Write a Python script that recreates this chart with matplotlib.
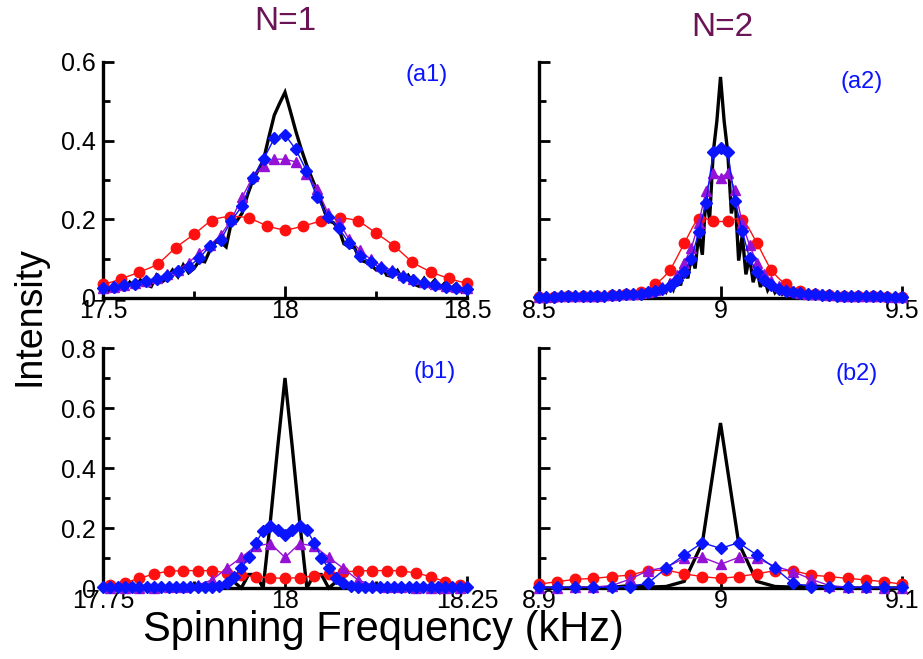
import numpy as np
import matplotlib
matplotlib.use("Agg")
import matplotlib.pyplot as plt
from matplotlib.ticker import FixedLocator

plt.rcParams['font.family'] = ['Liberation Sans', 'DejaVu Sans']

# ---------------- N=1, panel (a1) ----------------
a1_black = [0.026, 0.016, 0.036, 0.024, 0.020, 0.040, 0.025, 0.046, 0.034, 0.029,
            0.058, 0.041, 0.050, 0.071, 0.054, 0.084, 0.064, 0.075, 0.095, 0.092,
            0.122, 0.142, 0.142, 0.130, 0.194, 0.196, 0.216, 0.262, 0.300, 0.325,
            0.352, 0.410, 0.465, 0.495, 0.523,
            0.475, 0.425, 0.380, 0.340, 0.305, 0.272, 0.235, 0.196, 0.192, 0.178,
            0.138, 0.130, 0.128, 0.096, 0.092, 0.085, 0.072, 0.084, 0.058, 0.055,
            0.070, 0.046, 0.058, 0.036, 0.030, 0.050, 0.030, 0.046, 0.026, 0.040,
            0.024, 0.036, 0.016, 0.030]
a1_blue = [0.025, 0.028, 0.032, 0.036, 0.042, 0.048, 0.056, 0.068, 0.080, 0.101,
           0.133, 0.148, 0.197, 0.234, 0.306, 0.353, 0.406, 0.415, 0.378, 0.324,
           0.256, 0.205, 0.179, 0.139, 0.107, 0.092, 0.075, 0.067, 0.053, 0.046,
           0.038, 0.033, 0.029, 0.026, 0.024]
a1_purple = [0.025, 0.029, 0.033, 0.038, 0.044, 0.050, 0.060, 0.072, 0.090, 0.114,
             0.135, 0.160, 0.200, 0.256, 0.309, 0.336, 0.353, 0.353, 0.346, 0.315,
             0.277, 0.217, 0.194, 0.149, 0.122, 0.098, 0.082, 0.070, 0.058, 0.048,
             0.040, 0.035, 0.030, 0.027, 0.025]
a1_red = [0.035, 0.049, 0.066, 0.087, 0.128, 0.162, 0.197, 0.207, 0.203, 0.184,
          0.174, 0.183, 0.196, 0.203, 0.195, 0.165, 0.132, 0.092, 0.067, 0.050, 0.038]

# ---------------- N=2, panel (a2) ----------------
a2_black = [0.003, 0.001, 0.003, 0.001, 0.004, 0.002, 0.004, 0.002, 0.005, 0.002,
            0.005, 0.003, 0.006, 0.003, 0.007, 0.003, 0.008, 0.004, 0.009, 0.004,
            0.010, 0.005,
            0.011, 0.005, 0.013, 0.006, 0.015, 0.007, 0.017, 0.008, 0.020, 0.010,
            0.024, 0.012, 0.030, 0.016, 0.040, 0.022, 0.055, 0.032, 0.078, 0.050,
            0.110, 0.075, 0.165, 0.110, 0.260, 0.200, 0.370, 0.450,
            0.562,
            0.450, 0.370, 0.215, 0.260, 0.095, 0.160, 0.060, 0.105, 0.040, 0.075,
            0.028, 0.052, 0.020, 0.036, 0.014, 0.026, 0.010, 0.020, 0.008, 0.016,
            0.006, 0.013, 0.005, 0.011, 0.004, 0.010, 0.004, 0.009,
            0.003, 0.008, 0.003, 0.007, 0.003, 0.006, 0.002, 0.005, 0.002, 0.005,
            0.002, 0.004, 0.002, 0.004, 0.001, 0.004, 0.001, 0.003, 0.001, 0.003,
            0.001, 0.003]
a2_blue = [0.003, 0.003, 0.003, 0.004, 0.004, 0.004, 0.005, 0.005, 0.006, 0.006,
           0.007, 0.008, 0.009, 0.010, 0.011,
           0.014, 0.018, 0.022, 0.031, 0.045, 0.065, 0.100, 0.168, 0.242, 0.370,
           0.382,
           0.370, 0.247, 0.170, 0.101, 0.066, 0.046, 0.033, 0.022, 0.018, 0.014,
           0.012, 0.010, 0.009, 0.008, 0.007, 0.006, 0.006, 0.005, 0.005, 0.004,
           0.004, 0.004, 0.003, 0.003, 0.003]
a2_purple = [0.003, 0.003, 0.004, 0.004, 0.004, 0.005, 0.005, 0.006, 0.006, 0.007,
             0.008, 0.009, 0.010, 0.011, 0.013,
             0.016, 0.021, 0.027, 0.038, 0.058, 0.090, 0.128, 0.190, 0.273, 0.317,
             0.306,
             0.318, 0.275, 0.190, 0.134, 0.090, 0.062, 0.044, 0.030, 0.022, 0.017,
             0.013, 0.011, 0.010, 0.009, 0.008, 0.007, 0.006, 0.006, 0.005, 0.005,
             0.004, 0.004, 0.004, 0.003, 0.003]
a2_red = [0.003, 0.003, 0.004, 0.004, 0.005, 0.007, 0.010, 0.016, 0.035, 0.071,
          0.139, 0.201, 0.195, 0.195, 0.199, 0.140, 0.072, 0.035, 0.018, 0.010,
          0.007, 0.005, 0.004, 0.004, 0.003, 0.003]

# ---------------- N=1, panel (b1) ----------------
b1_black = [0, 0, 0, 0, 0, 0, 0, 0, 0, 0,
            0, 0, 0, 0, 0, 0, 0, 0.015, 0.020, 0.0,
            0.045, 0.045, 0.0, 0.225, 0.470,
            0.700,
            0.470, 0.225, 0.0, 0.045, 0.045, 0.0, 0.020, 0.015, 0, 0,
            0, 0, 0, 0, 0, 0, 0, 0, 0, 0,
            0, 0, 0, 0, 0]
b1_blue = [0.002, 0.002, 0.002, 0.002, 0.002, 0.002, 0.002, 0.002, 0.002, 0.002,
           0.002, 0.002, 0.002, 0.003, 0.003,
           0.004, 0.008, 0.016, 0.036, 0.066, 0.102, 0.151, 0.191, 0.208, 0.193,
           0.177,
           0.195, 0.208, 0.193, 0.151, 0.100, 0.066, 0.035, 0.016, 0.008, 0.004,
           0.003, 0.003, 0.002, 0.002, 0.002, 0.002, 0.002, 0.002, 0.002, 0.002,
           0.002, 0.002, 0.002, 0.002, 0.002]
b1_purple = [0.001, 0.001, 0.001, 0.001, 0.002, 0.004, 0.010, 0.027, 0.066, 0.102,
             0.140, 0.148, 0.102, 0.148, 0.140, 0.102, 0.066, 0.027, 0.010, 0.004,
             0.002, 0.001, 0.001, 0.001, 0.001]
b1_red = [0.010, 0.018, 0.032, 0.047, 0.056, 0.058, 0.058, 0.058, 0.050, 0.042,
          0.038, 0.034, 0.032, 0.035, 0.040, 0.047, 0.053, 0.057, 0.058, 0.058,
          0.057, 0.050, 0.038, 0.021, 0.010]

# ---------------- N=2, panel (b2) ----------------
b2_black = [0, 0, 0, 0, 0.002, 0.008, 0.003, 0.005, 0.022, 0.150,
            0.550,
            0.150, 0.022, 0.005, 0.003, 0.008, 0.002, 0, 0, 0, 0]
b2_blue = [0.002, 0.002, 0.002, 0.002, 0.003, 0.005, 0.016, 0.066, 0.110, 0.151,
           0.132,
           0.151, 0.110, 0.066, 0.016, 0.005, 0.003, 0.002, 0.002, 0.002, 0.002]
b2_purple = [0.001, 0.001, 0.002, 0.003, 0.008, 0.029, 0.058, 0.069, 0.099, 0.102,
             0.079,
             0.102, 0.099, 0.072, 0.055, 0.029, 0.008, 0.003, 0.002, 0.001, 0.001]
b2_red = [0.013, 0.021, 0.029, 0.032, 0.038, 0.043, 0.058, 0.060, 0.047, 0.038,
          0.032,
          0.038, 0.047, 0.058, 0.058, 0.043, 0.038, 0.032, 0.027, 0.021, 0.013]

# frequency grids (kHz)
x_a1_black = np.linspace(17.5, 18.5, len(a1_black))
x_a1_fine = np.linspace(17.5, 18.5, len(a1_blue))
x_a1_red = np.linspace(17.5, 18.5, len(a1_red))
x_a2_black = np.linspace(8.5, 9.5, len(a2_black))
x_a2_fine = np.linspace(8.5, 9.5, len(a2_blue))
x_a2_red = np.linspace(8.5, 9.5, len(a2_red))
x_b1_fine = np.linspace(17.75, 18.25, len(b1_blue))
x_b1_coarse = np.linspace(17.76, 18.24, len(b1_red))
x_b2 = np.linspace(8.9, 9.1, len(b2_blue))

BLUE = '#0a14ff'
PURPLE = '#9412d6'
RED = '#ff1010'
TITLE = '#6b1455'


def smooth_curve(x, y, n=12):
    """Catmull-Rom curve through the points, used for the connecting line only."""
    x = np.asarray(x, float)
    y = np.asarray(y, float)
    xp = np.concatenate([[2 * x[0] - x[1]], x, [2 * x[-1] - x[-2]]])
    yp = np.concatenate([[y[0]], y, [y[-1]]])
    t = np.linspace(0, 1, n, endpoint=False)
    xs, ys = [], []
    for i in range(1, len(xp) - 2):
        for arr, out in ((xp, xs), (yp, ys)):
            p0, p1, p2, p3 = arr[i - 1], arr[i], arr[i + 1], arr[i + 2]
            out.append(0.5 * (2 * p1 + (-p0 + p2) * t
                              + (2 * p0 - 5 * p1 + 4 * p2 - p3) * t ** 2
                              + (-p0 + 3 * p1 - 3 * p2 + p3) * t ** 3))
    xs.append([x[-1]])
    ys.append([y[-1]])
    return np.concatenate(xs), np.concatenate(ys)


fig = plt.figure(figsize=(9.23, 6.59), dpi=100)

W1, W2 = 364 / 923, 363 / 923
axes = {
    'a1': fig.add_axes([103 / 923, 1 - 298 / 659, W1, 236 / 659]),
    'a2': fig.add_axes([539 / 923, 1 - 298 / 659, W2, 236 / 659]),
    'b1': fig.add_axes([103 / 923, 1 - 588 / 659, W1, 240 / 659]),
    'b2': fig.add_axes([539 / 923, 1 - 588 / 659, W2, 240 / 659]),
}


def draw(ax, xb, yb, xp, yp_blue, xpp, yp_purple, xr, yr, smooth_red=False):
    common = dict(clip_on=False)
    ax.plot(xb, yb, color='black', lw=2.4, solid_joinstyle='miter', zorder=3, **common)
    if smooth_red:
        sx, sy = smooth_curve(xr, yr)
        ax.plot(sx, sy, color=RED, lw=1.0, zorder=4, **common)
        ax.plot(xr, yr, ls='none', marker='o', ms=7.5, color=RED, zorder=4, **common)
    else:
        ax.plot(xr, yr, color=RED, lw=1.0, marker='o', ms=7.5, mec=RED, zorder=4,
                **common)
    ax.plot(xpp, yp_purple, color=PURPLE, lw=1.0, marker='^', ms=7.5, mec=PURPLE,
            zorder=5, **common)
    ax.plot(xp, yp_blue, color=BLUE, lw=1.0, marker='D', ms=6.2, mec=BLUE, zorder=6,
            **common)


draw(axes['a1'], x_a1_black, a1_black, x_a1_fine, a1_blue, x_a1_fine, a1_purple,
     x_a1_red, a1_red, smooth_red=True)
draw(axes['a2'], x_a2_black, a2_black, x_a2_fine, a2_blue, x_a2_fine, a2_purple,
     x_a2_red, a2_red, smooth_red=True)
draw(axes['b1'], x_b1_fine, b1_black, x_b1_fine, b1_blue, x_b1_coarse, b1_purple,
     x_b1_coarse, b1_red)
draw(axes['b2'], x_b2, b2_black, x_b2, b2_blue, x_b2, b2_purple, x_b2, b2_red)

setup = {
    'a1': dict(xlim=(17.5, 18.5), xmaj=[17.5, 18, 18.5], xmin=[17.75, 18.25],
               xlab=['17.5', '18', '18.5'], ylim=(0, 0.6),
               ymaj=[0, 0.2, 0.4, 0.6], ymin=[0.1, 0.3, 0.5],
               ylab=['0', '0.2', '0.4', '0.6']),
    'a2': dict(xlim=(8.5, 9.5), xmaj=[8.5, 9, 9.5], xmin=[8.75, 9.25],
               xlab=['8.5', '9', '9.5'], ylim=(0, 0.6),
               ymaj=[0, 0.2, 0.4, 0.6], ymin=[0.1, 0.3, 0.5], ylab=None),
    'b1': dict(xlim=(17.75, 18.25), xmaj=[17.75, 18, 18.25], xmin=[17.875, 18.125],
               xlab=['17.75', '18', '18.25'], ylim=(0, 0.8),
               ymaj=[0, 0.2, 0.4, 0.6, 0.8], ymin=[0.1, 0.3, 0.5, 0.7],
               ylab=['0', '0.2', '0.4', '0.6', '0.8']),
    'b2': dict(xlim=(8.9, 9.1), xmaj=[8.9, 9, 9.1], xmin=[8.95, 9.05],
               xlab=['8.9', '9', '9.1'], ylim=(0, 0.8),
               ymaj=[0, 0.2, 0.4, 0.6, 0.8], ymin=[0.1, 0.3, 0.5, 0.7], ylab=None),
}

for key, ax in axes.items():
    s = setup[key]
    ax.set_xlim(*s['xlim'])
    ax.set_ylim(*s['ylim'])
    ax.xaxis.set_major_locator(FixedLocator(s['xmaj']))
    ax.xaxis.set_minor_locator(FixedLocator(s['xmin']))
    ax.yaxis.set_major_locator(FixedLocator(s['ymaj']))
    ax.yaxis.set_minor_locator(FixedLocator(s['ymin']))
    ax.set_xticklabels(s['xlab'])
    if s['ylab'] is None:
        ax.set_yticklabels([])
    else:
        ax.set_yticklabels(s['ylab'])
    for side in ('top', 'right'):
        ax.spines[side].set_visible(False)
    for side in ('left', 'bottom'):
        ax.spines[side].set_linewidth(2.4)
        ax.spines[side].set_zorder(2)
    ax.tick_params(which='both', direction='in', width=2.0, labelsize=18, colors='black')
    ax.tick_params(axis='x', which='major', length=9, pad=1)
    ax.tick_params(axis='x', which='minor', length=5)
    ax.tick_params(axis='y', which='major', length=8, pad=5)
    ax.tick_params(axis='y', which='minor', length=5)
    ax.patch.set_alpha(0)

panel_labels = {'a1': (427, 75), 'a2': (862, 82), 'b1': (435, 372), 'b2': (857, 374)}
for key, (px, py) in panel_labels.items():
    fig.text(px / 923, 1 - py / 659, f'({key})', color=BLUE, fontsize=17,
             ha='center', va='center')

fig.text(285 / 923, 1 - 22 / 659, 'N=1', color=TITLE, fontsize=24, ha='center',
         va='center')
fig.text(722 / 923, 1 - 28 / 659, 'N=2', color=TITLE, fontsize=24, ha='center',
         va='center')

fig.text(30 / 923, 1 - 316 / 659, 'Intensity', fontsize=27, rotation=90,
         ha='center', va='center')
fig.text(383 / 923, 1 - 630 / 659, 'Spinning Frequency (kHz)', fontsize=30,
         ha='center', va='center')

fig.savefig('out.png', dpi=100)
